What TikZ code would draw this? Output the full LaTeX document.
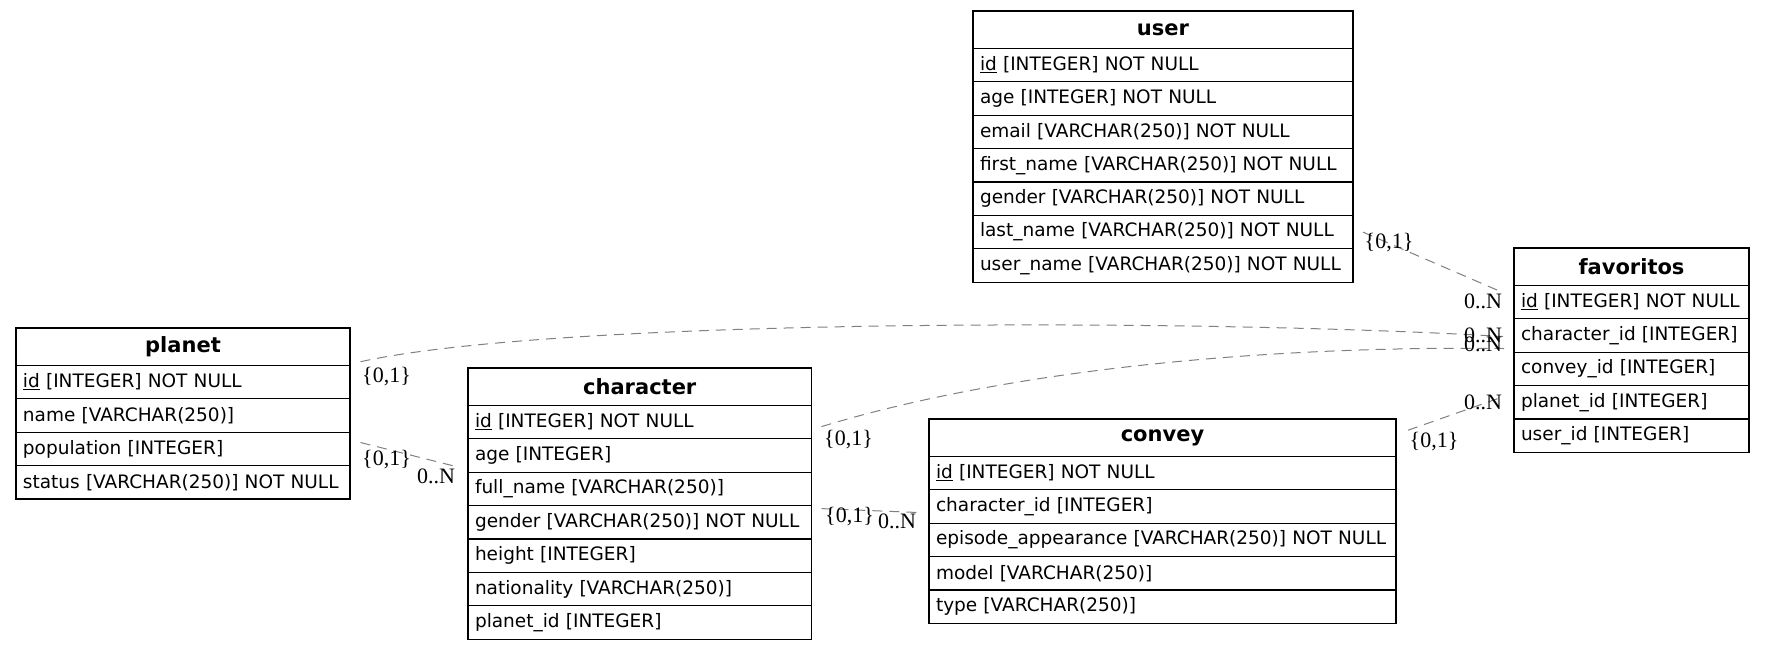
\documentclass[tikz,border=0pt]{standalone}
\usepackage{fontspec}
\usepackage{tikz}
\usetikzlibrary{positioning}
\newfontfamily\tblfont{DejaVu Sans}
\newfontfamily\cardfont{Liberation Serif}
\tikzstyle{tblhead} = [draw=black, line width=1.2pt, rectangle, outer sep=0pt, inner xsep=7pt, inner ysep=0pt, minimum height=37.4pt, align=center, font=\tblfont\bfseries\fontsize{21}{25}\selectfont]
\tikzstyle{tblrow} = [draw=black, line width=1.2pt, rectangle, outer sep=0pt, inner xsep=7pt, inner ysep=0pt, minimum height=33.4pt, align=left, font=\tblfont\fontsize{18.5}{22}\selectfont]
\tikzstyle{rel} = [draw=gray, line width=1pt, dash pattern=on 10pt off 7pt]
\tikzstyle{card} = [font=\cardfont\fontsize{22}{26}\selectfont, inner sep=0pt]

\begin{document}
\begin{tikzpicture}[x=1pt, y=-1pt]
	\fill[white] (0,0) rectangle (1765,649);
	\useasboundingbox (0,0) rectangle (1765,649);

	% user
	\node[tblhead, text width=366pt, anchor=north west] (user-h) at (973,11) {user};
	\node[tblrow, text width=366pt, below=0pt of user-h] (user-id) {\underline{id} [INTEGER] NOT NULL};
	\node[tblrow, text width=366pt, below=0pt of user-id] (user-age) {age [INTEGER] NOT NULL};
	\node[tblrow, text width=366pt, below=0pt of user-age] (user-email) {email [VARCHAR(250)] NOT NULL};
	\node[tblrow, text width=366pt, below=0pt of user-email] (user-first) {first\_name [VARCHAR(250)] NOT NULL};
	\node[tblrow, text width=366pt, below=0pt of user-first] (user-gender) {gender [VARCHAR(250)] NOT NULL};
	\node[tblrow, text width=366pt, below=0pt of user-gender] (user-last) {last\_name [VARCHAR(250)] NOT NULL};
	\node[tblrow, text width=366pt, below=0pt of user-last] (user-uname) {user\_name [VARCHAR(250)] NOT NULL};

	% favoritos
	\node[tblhead, text width=221pt, anchor=north west] (fav-h) at (1514,248) {favoritos};
	\node[tblrow, text width=221pt, below=0pt of fav-h] (fav-id) {\underline{id} [INTEGER] NOT NULL};
	\node[tblrow, text width=221pt, below=0pt of fav-id] (fav-char) {character\_id [INTEGER]};
	\node[tblrow, text width=221pt, below=0pt of fav-char] (fav-convey) {convey\_id [INTEGER]};
	\node[tblrow, text width=221pt, below=0pt of fav-convey] (fav-planet) {planet\_id [INTEGER]};
	\node[tblrow, text width=221pt, below=0pt of fav-planet] (fav-user) {user\_id [INTEGER]};

	% planet
	\node[tblhead, text width=320pt, anchor=north west] (planet-h) at (16,328) {planet};
	\node[tblrow, text width=320pt, below=0pt of planet-h] (planet-id) {\underline{id} [INTEGER] NOT NULL};
	\node[tblrow, text width=320pt, below=0pt of planet-id] (planet-name) {name [VARCHAR(250)]};
	\node[tblrow, text width=320pt, below=0pt of planet-name] (planet-pop) {population [INTEGER]};
	\node[tblrow, text width=320pt, below=0pt of planet-pop] (planet-status) {status [VARCHAR(250)] NOT NULL};

	% character
	\node[tblhead, text width=329.5pt, anchor=north west] (char-h) at (468,368) {character};
	\node[tblrow, text width=329.5pt, below=0pt of char-h] (char-id) {\underline{id} [INTEGER] NOT NULL};
	\node[tblrow, text width=329.5pt, below=0pt of char-id] (char-age) {age [INTEGER]};
	\node[tblrow, text width=329.5pt, below=0pt of char-age] (char-fname) {full\_name [VARCHAR(250)]};
	\node[tblrow, text width=329.5pt, below=0pt of char-fname] (char-gender) {gender [VARCHAR(250)] NOT NULL};
	\node[tblrow, text width=329.5pt, below=0pt of char-gender] (char-height) {height [INTEGER]};
	\node[tblrow, text width=329.5pt, below=0pt of char-height] (char-nat) {nationality [VARCHAR(250)]};
	\node[tblrow, text width=329.5pt, below=0pt of char-nat] (char-planet) {planet\_id [INTEGER]};

	% convey
	\node[tblhead, text width=453pt, anchor=north west] (convey-h) at (929,419) {convey};
	\node[tblrow, text width=453pt, below=0pt of convey-h] (convey-id) {\underline{id} [INTEGER] NOT NULL};
	\node[tblrow, text width=453pt, below=0pt of convey-id] (convey-char) {character\_id [INTEGER]};
	\node[tblrow, text width=453pt, below=0pt of convey-char] (convey-ep) {episode\_appearance [VARCHAR(250)] NOT NULL};
	\node[tblrow, text width=453pt, below=0pt of convey-ep] (convey-model) {model [VARCHAR(250)]};
	\node[tblrow, text width=453pt, below=0pt of convey-model] (convey-type) {type [VARCHAR(250)]};

	% relations
	\draw[rel] ([xshift=10pt]user-last.east) -- ([xshift=-11pt,yshift=9.5pt]fav-id.west)
		node[card, pos=0, xshift=26pt, yshift=-10pt] {\{0,1\}}
		node[card, pos=1, xshift=-20pt, yshift=-9pt] {0..N};
	\draw[rel] ([xshift=10.5pt,yshift=-15pt]planet-h.east) .. controls +(200,-44) and +(-300,-18) .. ([xshift=-11pt,yshift=-1pt]fav-char.west);
	\node[card, xshift=26pt, yshift=-15pt] (c2t) at ([xshift=10.5pt,yshift=-15pt]planet-h.east) {\{0,1\}};
	\node[card, xshift=-20pt, yshift=1pt] (c2h) at ([xshift=-11pt,yshift=-1pt]fav-char.west) {0..N};
	\draw[rel] ([xshift=10pt,yshift=-4.5pt]char-id.east) .. controls +(180,-55) and +(-250,-3) .. ([xshift=-10pt,yshift=-13pt]fav-char.west);
	\node[card, xshift=27pt, yshift=-13pt] (c3t) at ([xshift=10pt,yshift=-4.5pt]char-id.east) {\{0,1\}};
	\node[card, xshift=-21pt, yshift=4pt] (c3h) at ([xshift=-10pt,yshift=-13pt]fav-char.west) {0..N};
	\draw[rel] ([xshift=12pt,yshift=7.5pt]convey-h.east) -- ([xshift=-11pt,yshift=5.5pt]fav-planet.west)
		node[card, pos=0, xshift=26pt, yshift=-11pt] {\{0,1\}}
		node[card, pos=1, xshift=-20pt, yshift=-6pt] {0..N};
	\draw[rel] ([xshift=10.5pt,yshift=6.4pt]planet-pop.east) -- ([xshift=-12pt,yshift=-11pt]char-age.west)
		node[card, pos=0, xshift=26pt, yshift=-17pt] {\{0,1\}}
		node[card, pos=1, xshift=-20pt, yshift=-10pt] {0..N};
	\draw[rel] ([xshift=10pt,yshift=13.7pt]char-gender.east) -- ([xshift=-11pt,yshift=-6pt]convey-char.west)
		node[card, pos=0, xshift=28pt, yshift=-8pt] {\{0,1\}}
		node[card, pos=1, xshift=-21pt, yshift=-9pt] {0..N};
\end{tikzpicture}
\end{document}
